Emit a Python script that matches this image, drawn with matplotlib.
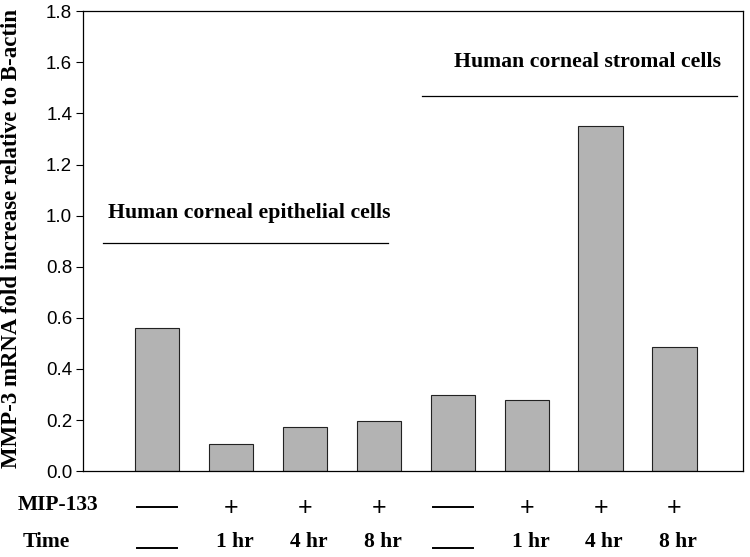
import matplotlib
matplotlib.use('Agg')
import matplotlib.pyplot as plt

# bar heights
values = [0.56, 0.105, 0.172, 0.197, 0.297, 0.28, 1.352, 0.486]
mip_row = ['—', '+', '+', '+', '—', '+', '+', '+']
time_row = ['—', '1 hr', '4 hr', '8 hr', '—', '1 hr', '4 hr', '8 hr']
yticks = [0.0, 0.2, 0.4, 0.6, 0.8, 1.0, 1.2, 1.4, 1.6, 1.8]

serif = 'Liberation Serif'
sans = 'Liberation Sans'

fig = plt.figure(figsize=(7.5, 5.57), dpi=100)
ax = fig.add_axes([0.111, 0.154, 0.880, 0.826])

xs = list(range(len(values)))
ax.bar(xs, values, width=0.6, color='#b3b3b3', edgecolor='#222222', linewidth=0.8)

ax.set_xlim(-1, 7.93)
ax.set_ylim(0, 1.8)
ax.set_yticks(yticks)
ax.set_yticklabels(['%.1f' % t for t in yticks], fontfamily=sans, fontsize=13.5)
ax.tick_params(axis='y', direction='out', length=5, width=0.8, pad=3)
ax.set_xticks([])
for s in ax.spines.values():
    s.set_linewidth(0.9)

ax.set_ylabel('MMP-3 mRNA fold increase relative to B-actin', fontfamily=serif,
              fontweight='bold', fontsize=16.5)
ax.yaxis.set_label_coords(-0.093, 0.505)

# group annotations
ax.text(1.24, 1.009, 'Human corneal epithelial cells', fontfamily=serif,
        fontweight='bold', fontsize=15.7, ha='center', va='center')
ax.plot([-0.73, 3.12], [0.892, 0.892], color='black', linewidth=0.9)
ax.text(5.82, 1.60, 'Human corneal stromal cells', fontfamily=serif,
        fontweight='bold', fontsize=15.7, ha='center', va='center')
ax.plot([3.59, 7.85], [1.467, 1.467], color='black', linewidth=0.9)

# treatment rows under the axis
tr = ax.get_xaxis_transform()
fig.text(18 / 750, 1 - 505 / 557, 'MIP-133', fontfamily=serif, fontweight='bold',
         fontsize=15.5, ha='left', va='center')
fig.text(23 / 750, 1 - 542 / 557, 'Time', fontfamily=serif, fontweight='bold',
         fontsize=15.5, ha='left', va='center')
for x, m, t in zip(xs, mip_row, time_row):
    if m == '—':
        ax.plot([x - 0.27, x + 0.27], [-0.078, -0.078], transform=tr,
                color='black', linewidth=1.4, clip_on=False)
    else:
        ax.text(x, -0.08, m, transform=tr, fontfamily=sans,
                fontsize=18, ha='center', va='center', clip_on=False)
    if t == '—':
        ax.plot([x - 0.27, x + 0.27], [-0.167, -0.167], transform=tr,
                color='black', linewidth=1.4, clip_on=False)
    else:
        ax.text(x + 0.05, -0.154, t, transform=tr, fontfamily=serif, fontweight='bold',
                fontsize=15.5, ha='center', va='center', clip_on=False)

fig.savefig('out.png', dpi=100)
